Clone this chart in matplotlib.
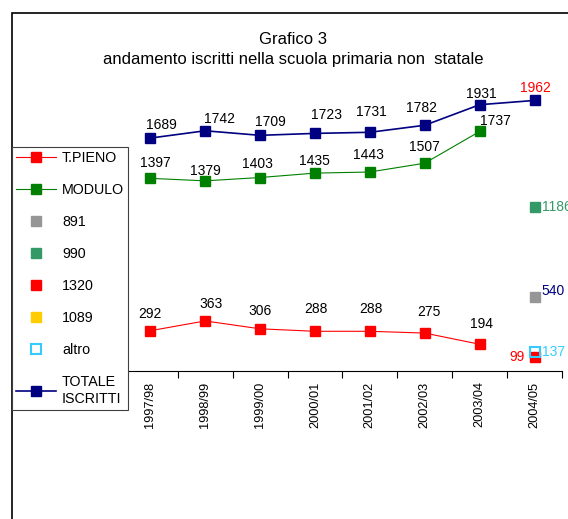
import matplotlib.pyplot as plt
from matplotlib.lines import Line2D
from matplotlib.patches import Rectangle

plt.rcParams['font.family'] = ['Liberation Sans', 'DejaVu Sans']

anni = ["1997/98", "1998/99", "1999/00", "2000/01", "2001/02", "2002/03", "2003/04", "2004/05"]
totale = [1689, 1742, 1709, 1723, 1731, 1782, 1931, 1962]
modulo = [1397, 1379, 1403, 1435, 1443, 1507, 1737]
t_pieno = [292, 363, 306, 288, 288, 275, 194]

# valori solo per il 2004/05
ore_nomi = ["891", "990", "1320", "altro"]
ore_valori = [540, 1186, 99, 137]

# spostamenti delle etichette (pixel) come nel grafico originale
tot_dx = [11, 14, 10, 12, 2, -3, 2, 1]
tot_dy = [9, 8, 9, 14, 16, 13, 7, 8]
mod_dx = [5, 0, -3, -1, -1, 0, 16]
mod_dy = [11, 6, 10, 8, 13, 12, 6]
tp_dx = [0, 6, 0, 1, 1, 4, 2]
tp_dy = [13, 13, 14, 18, 18, 17, 16]

W, H = 568, 519
fig = plt.figure(figsize=(W / 100, H / 100), dpi=100)
ax = fig.add_axes([122.8 / W, 148 / H, 439.2 / W, 275.8 / H])

x = list(range(len(anni)))
ms = 7
fs = 10

ax.plot(x, totale, color="#000080", lw=1.2, marker="s", ms=ms, clip_on=False)
ax.plot(x[:7], modulo, color="#008000", lw=0.8, marker="s", ms=ms, clip_on=False)
ax.plot(x[:7], t_pieno, color="#FF0000", lw=0.8, marker="s", ms=ms, clip_on=False)

for i, v in enumerate(totale):
    col = "#FF0000" if i == 7 else "black"
    ax.annotate(str(v), (i, v), xytext=(tot_dx[i], tot_dy[i]), textcoords="offset pixels",
                ha="center", va="baseline", fontsize=fs, color=col, annotation_clip=False)
for i, v in enumerate(modulo):
    ax.annotate(str(v), (i, v), xytext=(mod_dx[i], mod_dy[i]), textcoords="offset pixels",
                ha="center", va="baseline", fontsize=fs)
for i, v in enumerate(t_pieno):
    ax.annotate(str(v), (i, v), xytext=(tp_dx[i], tp_dy[i]), textcoords="offset pixels",
                ha="center", va="baseline", fontsize=fs)

# punti isolati 2004/05
ax.plot([7], [ore_valori[0]], ls="none", marker="s", ms=ms, color="#969696", clip_on=False)
ax.plot([7], [ore_valori[1]], ls="none", marker="s", ms=ms, color="#339966", clip_on=False)
ax.plot([7], [ore_valori[2]], ls="none", marker="s", ms=ms, color="#FF0000", clip_on=False)
ax.plot([7], [ore_valori[3]], ls="none", marker="s", ms=ms - 0.5, mfc="none", mec="#33CCFF",
        mew=1.5, clip_on=False)

ax.annotate(str(ore_valori[0]), (7, ore_valori[0]), xytext=(7, 2), textcoords="offset pixels",
            ha="left", va="baseline", fontsize=fs, color="#000080", annotation_clip=False)
ax.annotate(str(ore_valori[1]), (7, ore_valori[1]), xytext=(7, 0), textcoords="offset pixels",
            ha="left", va="center", fontsize=fs, color="#339966", annotation_clip=False)
ax.annotate(str(ore_valori[2]), (7, ore_valori[2]), xytext=(-10, 0), textcoords="offset pixels",
            ha="right", va="center", fontsize=fs, color="#FF0000", annotation_clip=False)
ax.annotate(str(ore_valori[3]), (7, ore_valori[3]), xytext=(7, 0), textcoords="offset pixels",
            ha="left", va="center", fontsize=fs, color="#33CCFF", annotation_clip=False)

ax.set_xlim(-0.5, 7.5)
ax.set_ylim(0, 2000)
ax.set_yticks([])
ax.set_xticks(x)
ax.set_xticklabels(anni, rotation=90, fontsize=9.2)
ax.set_xticks([i + 0.5 for i in range(-1, 8)], minor=True)
ax.tick_params(axis="x", which="major", length=0, pad=7.5)
ax.tick_params(axis="x", which="minor", length=5, width=0.8, direction="out")
for s in ["left", "top", "right"]:
    ax.spines[s].set_visible(False)
ax.spines["bottom"].set_linewidth(0.8)
ax.patch.set_alpha(0)

fig.text(293 / W, 1 - 39 / H, "Grafico 3", ha="center", va="center", fontsize=12)
fig.text(293 / W, 1 - 60 / H, "andamento iscritti nella scuola primaria non  statale",
         ha="center", va="center", fontsize=12)

handles = [
    Line2D([], [], color="#FF0000", lw=0.8, marker="s", ms=ms),
    Line2D([], [], color="#008000", lw=0.8, marker="s", ms=ms),
    Line2D([], [], ls="none", marker="s", ms=ms, color="#969696"),
    Line2D([], [], ls="none", marker="s", ms=ms, color="#339966"),
    Line2D([], [], ls="none", marker="s", ms=ms, color="#FF0000"),
    Line2D([], [], ls="none", marker="s", ms=ms, color="#FFCC00"),
    Line2D([], [], ls="none", marker="s", ms=ms - 0.5, mfc="white", mec="#33CCFF", mew=1.5),
    Line2D([], [], color="#000080", lw=1.2, marker="s", ms=ms),
]
labels = ["T.PIENO", "MODULO", "891", "990", "1320", "1089", "altro", "TOTALE\nISCRITTI"]
leg = fig.legend(handles, labels, loc="upper left", bbox_to_anchor=(12 / W, 1 - 147 / H),
                 fontsize=10.3, frameon=True, fancybox=False, edgecolor="#404040",
                 handlelength=2.8, handletextpad=0.4, borderpad=0.3, labelspacing=1.26,
                 borderaxespad=0, framealpha=1)
leg.get_frame().set_linewidth(0.8)

fig.patches.append(Rectangle((12 / W, -0.05), 1.0, 1 - 13 / H + 0.05,
                             transform=fig.transFigure, fill=False, ec="black", lw=1.2))

fig.savefig("out.png", dpi=100)
